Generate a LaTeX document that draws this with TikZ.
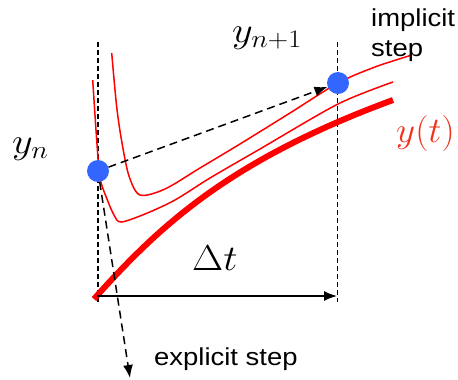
\RequirePackage{fix-cm}
\documentclass[tikz,border=0pt]{standalone}
\usepackage{fontspec}
\newfontfamily\labelfont{Liberation Sans}
\usetikzlibrary{arrows.meta}
\definecolor{dotblue}{RGB}{51,102,255}
\definecolor{curvered}{RGB}{255,0,0}
\definecolor{labelred}{RGB}{240,50,30}
\pgfdeclarelayer{bg}
\pgfsetlayers{bg,main}
\begin{document}
\begin{tikzpicture}[x=1pt,y=-1pt,
 dot/.style={circle,fill=dotblue,minimum size=22pt,inner sep=0pt},
 guide/.style={dash pattern=on 5pt off 3pt, line width=1.2pt},
 steparrow/.style={dash pattern=on 8pt off 5pt, line width=1.5pt, -{Latex[length=13pt,width=10pt]}},
 dtarrow/.style={line width=1.5pt, -{Latex[length=13pt,width=10pt]}},
 thincurve/.style={draw=curvered,line width=1.5pt},
 thickcurve/.style={draw=curvered,line width=6pt},
 mathlbl/.style={inner sep=0pt,anchor=base west,xscale=1.12,font=\fontsize{36}{40}\selectfont},
 txtlbl/.style={inner sep=0pt,anchor=base west,xscale=1.12,font=\fontsize{24.5}{30}\selectfont\labelfont}]
\useasboundingbox (0,0) rectangle (458,380);

% labels
\node[mathlbl] (lyn) at (12,153) {$y_n$};
\node[mathlbl] (lyn1) at (232,42) {$y_{n+1}$};
\node[mathlbl] (ldt) at (192,270) {$\Delta t$};
\node[mathlbl,xscale=0.92,text=labelred] (lyt) at (396,142) {$y(t)$};
\node[txtlbl] (limp) at (371,27) {\begin{tabular}[t]{@{}l@{}}implicit\\[-1pt]step\end{tabular}};
\node[txtlbl] (lexp) at (154,365) {explicit step};

% dots
\node[dot] (yn) at (98,171) {};
\node[dot] (yn1) at (338,83) {};

% guide coordinates
\coordinate (gl1) at (98,42);
\coordinate (gl2) at (98,302);
\coordinate (gr1) at (337.5,42);
\coordinate (gr2) at (337.5,302);
\coordinate (dtstart) at (97,296);
\coordinate (dtend) at (337,296);
\coordinate (expend) at (130,378);
\coordinate (ys) at (94,299);
\coordinate (ye) at (393,100);

\begin{pgfonlayer}{bg}
\draw[guide] (gl1) -- (gl2);
\draw[guide] (gr1) -- (gr2);
% curve B (upper thin)
\draw[thincurve] plot[smooth,tension=0.5] coordinates {(111.7,53) (116.7,107) (122,143) (129,176) (140,195) (165,189) (200,168) (240,144) (290,113) (338,83) (375,67) (412,55)};
% curve A (lower thin)
\draw[thincurve] plot[smooth,tension=0.5] coordinates {(92.7,80) (96.7,140) (100,178) (107,199) (114,215) (121,222) (145,214) (175,200) (210,178) (260,149) (338,104) (393,82)};
% exact solution y(t)
\draw[thickcurve] (ys) .. controls (160,225) and (230,160) .. (ye);
\end{pgfonlayer}

\draw[steparrow] (yn) -- (yn1);
\draw[steparrow] (yn) -- (expend);
\draw[dtarrow] (dtstart) -- (dtend);
\end{tikzpicture}
\end{document}
